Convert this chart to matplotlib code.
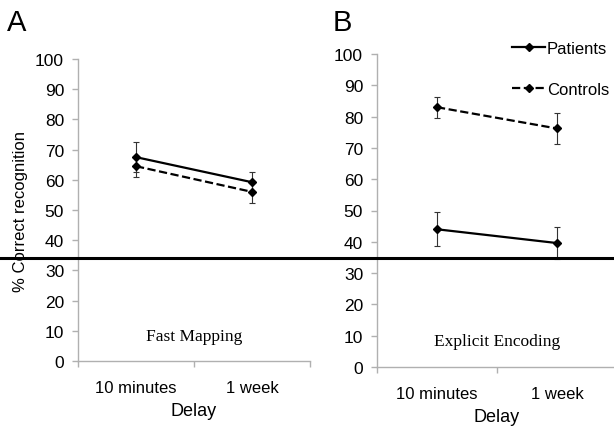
import matplotlib
matplotlib.use("Agg")
import matplotlib.pyplot as plt
from matplotlib.lines import Line2D
import matplotlib.transforms as mtransforms

plt.rcParams['font.family'] = ['Liberation Sans', 'DejaVu Sans']

categories = ["10 minutes", "1 week"]
panel_titles = ["Fast Mapping", "Explicit Encoding"]
panel_letters = ["A", "B"]
series_names = ["Patients", "Controls"]
# Panel A
a_patients = [67.5, 59.2]
a_patients_err = [5.0, 3.3]
a_controls = [64.5, 56.0]
a_controls_err = [3.5, 3.7]
# Panel B
b_patients = [44.0, 39.6]
b_patients_err = [5.5, 5.0]
b_controls = [83.0, 76.2]
b_controls_err = [3.4, 5.0]
chance = 34.0
yticks = list(range(0, 101, 10))

fig = plt.figure(figsize=(6.14, 4.27), dpi=100)
axA = fig.add_axes([78/614, 1-362/427, 232/614, 302/427])
axB = fig.add_axes([377/614, 1-368/427, 240/614, 313/427])

xpos = [0.5, 1.5]
gray = '#b0b0b0'
styles = ['-', '--']
for ax, pats, perr, ctrl, cerr, title in [
    (axA, a_patients, a_patients_err, a_controls, a_controls_err, panel_titles[0]),
    (axB, b_patients, b_patients_err, b_controls, b_controls_err, panel_titles[1]),
]:
    for vals, errs, ls in [(pats, perr, styles[0]), (ctrl, cerr, styles[1])]:
        ax.errorbar(xpos, vals, yerr=errs, color='black', ls=ls, lw=1.6, marker='D',
                    ms=4.5, ecolor='#333333', elinewidth=0.8, capsize=2.5, capthick=0.8,
                    zorder=3)
    ax.set_xlim(0, 2)
    ax.set_ylim(0, 100)
    ax.set_yticks(yticks)
    ax.set_xticks([0, 1, 2])
    ax.set_xticklabels([])
    ax.set_xticks(xpos, minor=True)
    ax.set_xticklabels(categories, minor=True, fontsize=12)
    ax.tick_params(axis='x', which='minor', length=0, pad=14)
    ax.tick_params(axis='x', which='major', length=4, color=gray, width=1)
    ax.tick_params(axis='y', length=4, color=gray, width=1, labelsize=12.5, pad=6)
    for s in ['top', 'right']:
        ax.spines[s].set_visible(False)
    for s in ['left', 'bottom']:
        ax.spines[s].set_color(gray)
        ax.spines[s].set_linewidth(1)
    ax.set_xlabel('Delay', fontsize=13, labelpad=5)
    ax.text(1.0, 8.3, title, ha='center', va='center', fontsize=12.5,
            family=['Liberation Serif', 'DejaVu Serif'])
    ax.patch.set_alpha(0)

axA.set_ylabel('% Correct recognition', fontsize=12, labelpad=5)

fig.text(7/614, 1-23/427, panel_letters[0], fontsize=21, va='center', ha='left')
fig.text(333/614, 1-23/427, panel_letters[1], fontsize=21, va='center', ha='left')

# chance line across the whole figure
trans = mtransforms.blended_transform_factory(fig.transFigure, axA.transData)
fig.add_artist(Line2D([0, 1], [chance, chance], transform=trans, color='black', lw=2.2, zorder=5))

# legend
handles = [Line2D([], [], color='black', ls=s, lw=1.6, marker='D', ms=4.5) for s in styles]
fig.legend(handles, series_names, loc='upper left', bbox_to_anchor=(512/614, 1-42/427),
           frameon=False, fontsize=12, handlelength=2.0, handletextpad=0.1,
           labelspacing=1.55, borderpad=0, borderaxespad=0)

fig.savefig('out.png', dpi=100)
